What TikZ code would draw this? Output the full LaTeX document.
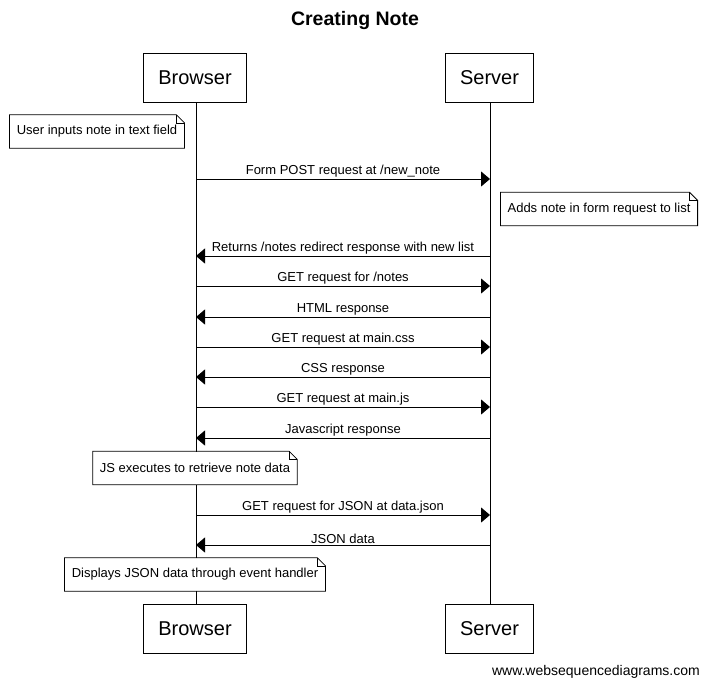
\documentclass[tikz,border=0pt]{standalone}
\usepackage{fontspec}
\setmainfont{Liberation Sans}
\usetikzlibrary{arrows.meta}
\tikzset{
  actor/.style={draw, line width=1pt, inner xsep=14.5pt, inner ysep=0pt, minimum height=49pt, font=\fontsize{20}{22}\selectfont, fill=white},
  notetext/.style={fill=white, inner xsep=7pt, inner ysep=0pt, minimum height=33pt, font=\fontsize{13}{15}\selectfont},
  msg/.style={line width=1pt, -{Triangle[length=9pt,width=15pt]}},
  lbl/.style={above, inner sep=0pt, yshift=1pt, font=\fontsize{13}{15}\selectfont},
  life/.style={line width=1pt}
}
\newcommand{\notebox}[1]{%
  \draw[line width=0.8pt] (#1.north west) -- ([xshift=-8pt]#1.north east) -- ([yshift=-8pt]#1.north east) -- (#1.south east) -- (#1.south west) -- cycle;
  \draw[line width=0.5pt] ([xshift=-8pt]#1.north east) -- ([xshift=-8pt,yshift=-8pt]#1.north east) -- ([yshift=-8pt]#1.north east);
}
\begin{document}
\begin{tikzpicture}[x=1pt,y=-1pt]
\useasboundingbox[fill=white] (0,0) rectangle (709,688);
\node[font=\fontsize{19.5}{22}\selectfont\bfseries] (title) at (355,21) {Creating Note};
% participants
\node[actor] (bt) at (195,77.5) {Browser};
\node[actor] (st) at (489.5,77.5) {Server};
\node[actor] (bb) at (195,628.5) {Browser};
\node[actor] (sb) at (489.5,628.5) {Server};
\draw[life] (bt.south -| 196,0) -- (bb.north -| 196,0);
\draw[life] (st.south -| 490,0) -- (sb.north -| 490,0);
% notes
\node[notetext] (n1) at (97,131.5) {User inputs note in text field};
\notebox{n1}
\node[notetext] (n2) at (599,209) {Adds note in form request to list};
\notebox{n2}
\node[notetext] (n3) at (195,468) {JS executes to retrieve note data};
\notebox{n3}
\node[notetext] (n4) at (195,574.5) {Displays JSON data through event handler};
\notebox{n4}
% message endpoints
\foreach \i/\y in {1/179,2/256,3/286,4/317,5/347,6/377,7/407,8/438,9/515,10/545}{
  \coordinate (b\i) at (196,\y);
  \coordinate (s\i) at (490,\y);
}
\draw[msg] (b1) -- node[lbl]{Form POST request at /new\_note} (s1);
\draw[msg] (s2) -- node[lbl]{Returns /notes redirect response with new list} (b2);
\draw[msg] (b3) -- node[lbl]{GET request for /notes} (s3);
\draw[msg] (s4) -- node[lbl]{HTML response} (b4);
\draw[msg] (b5) -- node[lbl]{GET request at main.css} (s5);
\draw[msg] (s6) -- node[lbl]{CSS response} (b6);
\draw[msg] (b7) -- node[lbl]{GET request at main.js} (s7);
\draw[msg] (s8) -- node[lbl]{Javascript response} (b8);
\draw[msg] (b9) -- node[lbl]{GET request for JSON at data.json} (s9);
\draw[msg] (s10) -- node[lbl]{JSON data} (b10);
\node[anchor=east, inner sep=0pt, font=\fontsize{14}{16}\selectfont] (footer) at (700,672) {www.websequencediagrams.com};
\end{tikzpicture}
\end{document}
